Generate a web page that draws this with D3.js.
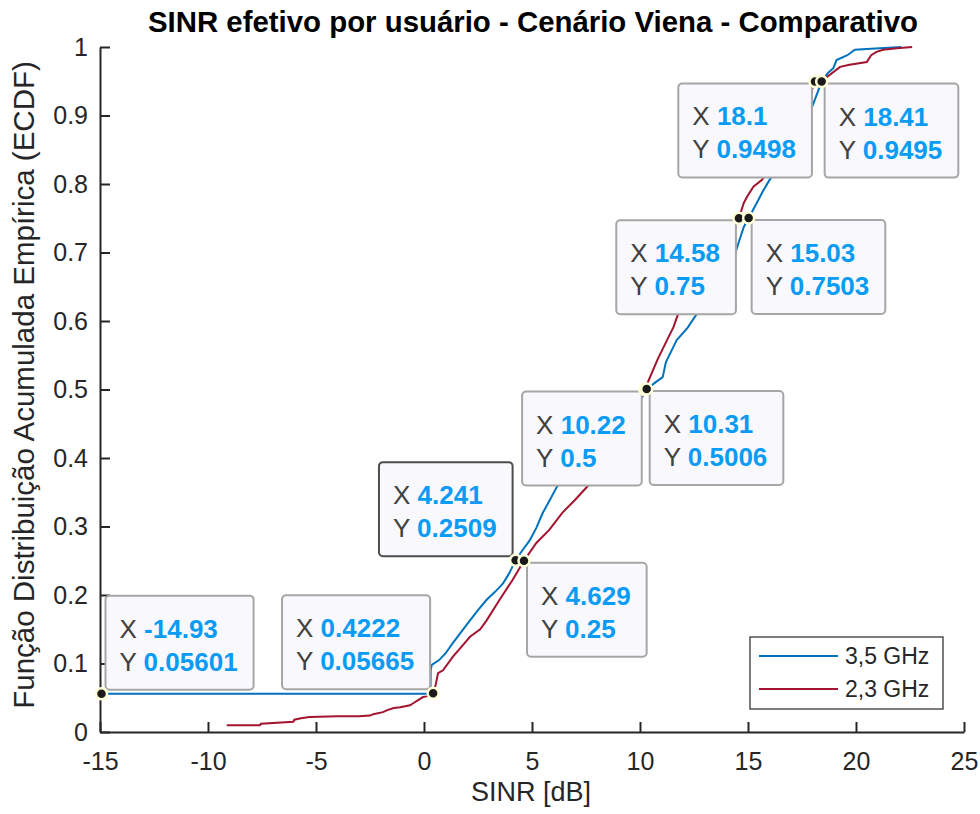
<!DOCTYPE html>
<html><head><meta charset="utf-8">
<script src="https://cdn.jsdelivr.net/npm/d3@7"></script>
<style>body{margin:0;background:#fff}svg{display:block}</style>
</head><body>
<svg id="c" width="980" height="814"></svg>
<script>
// ---- data ----
const titleText = "SINR efetivo por usuário - Cenário Viena - Comparativo";
const xLabel = "SINR [dB]";
const yLabel = "Função Distribuição Acumulada Empírica (ECDF)";
const xTicks = [-15, -10, -5, 0, 5, 10, 15, 20, 25];
const yTicks = [0, 0.1, 0.2, 0.3, 0.4, 0.5, 0.6, 0.7, 0.8, 0.9, 1];
const seriesNames = ["3,5 GHz", "2,3 GHz"];

const blueX = [-14.93, 0.30, 0.31, 0.36, 0.7, 1.0, 1.34, 1.7, 2.13, 2.5, 2.9, 3.3, 3.66, 3.95, 4.241, 4.55, 4.9, 5.2, 5.5, 5.85, 6.15, 6.6, 7.1, 7.6, 8.1, 8.6, 9.1, 9.6, 10.0, 10.31, 10.7, 11.05, 11.2, 11.45, 11.7, 12.2, 12.6, 13.0, 13.4, 13.8, 14.2, 14.5, 14.8, 15.03, 15.4, 15.7, 16.0, 16.4, 16.8, 17.2, 17.6, 18.0, 18.41, 18.7, 18.95, 19.1, 19.6, 19.95, 20.5, 21.1, 22.1];
const blueY = [0.05601, 0.056, 0.090, 0.098, 0.105, 0.115, 0.130, 0.145, 0.163, 0.178, 0.193, 0.205, 0.217, 0.232, 0.2509, 0.265, 0.280, 0.298, 0.320, 0.340, 0.358, 0.372, 0.388, 0.402, 0.418, 0.435, 0.452, 0.468, 0.483, 0.5006, 0.510, 0.518, 0.540, 0.556, 0.572, 0.590, 0.609, 0.625, 0.640, 0.658, 0.676, 0.708, 0.737, 0.7503, 0.772, 0.790, 0.806, 0.825, 0.845, 0.866, 0.888, 0.915, 0.9495, 0.962, 0.969, 0.981, 0.988, 0.996, 0.997, 0.998, 1.0];

const redX = [-9.13, -7.6, -7.55, -6.05, -6.0, -5.7, -5.3, -4.0, -3.0, -2.5, -2.35, -1.9, -1.7, -1.4, -1.1, -0.65, -0.5, -0.05, 0.13, 0.4222, 0.55, 0.65, 0.88, 1.34, 1.67, 2.13, 2.6, 2.9, 3.5, 4.1, 4.629, 5.2, 5.8, 6.4, 7.0, 7.55, 8.0, 8.5, 9.0, 9.4, 9.8, 10.22, 10.8, 11.25, 11.55, 11.75, 12.2, 12.7, 13.2, 13.7, 14.1, 14.58, 14.8, 14.95, 15.25, 15.65, 16.1, 16.6, 17.1, 17.6, 18.1, 18.3, 18.65, 19.26, 19.7, 20.5, 20.7, 20.95, 21.25, 21.9, 22.6];
const redY = [0.010, 0.010, 0.012, 0.015, 0.018, 0.020, 0.022, 0.023, 0.023, 0.024, 0.026, 0.029, 0.032, 0.035, 0.036, 0.039, 0.042, 0.051, 0.052, 0.05665, 0.070, 0.086, 0.090, 0.110, 0.122, 0.139, 0.150, 0.163, 0.193, 0.222, 0.25, 0.276, 0.295, 0.320, 0.339, 0.358, 0.378, 0.400, 0.423, 0.446, 0.470, 0.5, 0.543, 0.572, 0.591, 0.609, 0.626, 0.648, 0.672, 0.697, 0.720, 0.75, 0.772, 0.781, 0.796, 0.806, 0.828, 0.852, 0.878, 0.905, 0.9498, 0.951, 0.956, 0.971, 0.974, 0.978, 0.988, 0.993, 0.996, 0.998, 1.0];

// datatips: x label, y label, direction, selected
const tipX   = ["-14.93", "0.4222", "4.241", "4.629", "10.22", "10.31", "14.58", "15.03", "18.1", "18.41"];
const tipY   = ["0.05601", "0.05665", "0.2509", "0.25", "0.5", "0.5006", "0.75", "0.7503", "0.9498", "0.9495"];
const tipDir = ["ur", "ul", "ul", "lr", "ll", "lr", "ll", "lr", "ll", "lr"];
const tipSel = [false, false, true, false, false, false, false, false, false, false];

// ---- layout ----
const svg = d3.select("#c");
const L = 100, R = 964, T = 47, B = 732;
const x = d3.scaleLinear().domain([-15, 25]).range([L, R]);
const y = d3.scaleLinear().domain([0, 1]).range([B, T]);
const axisColor = "#262626";
const FONT = "'Liberation Sans', Arial, Helvetica, sans-serif";

// curves
const line = d3.line().x(d => x(d[0])).y(d => y(d[1]));
const blue = blueX.map((v, i) => [v, blueY[i]]);
const red = redX.map((v, i) => [v, redY[i]]);
svg.append("path").datum(blue).attr("d", line).attr("fill", "none").attr("stroke", "#0072BD").attr("stroke-width", 2);
svg.append("path").datum(red).attr("d", line).attr("fill", "none").attr("stroke", "#A2142F").attr("stroke-width", 2);

// axes
const gx = svg.append("g").attr("transform", `translate(0,${B})`)
  .call(d3.axisBottom(x).tickValues(xTicks).tickSizeInner(-10).tickSizeOuter(0).tickPadding(20).tickFormat(d => String(d)));
const gy = svg.append("g").attr("transform", `translate(${L},0)`)
  .call(d3.axisLeft(y).tickValues(yTicks).tickSizeInner(-10).tickSizeOuter(0).tickPadding(12).tickFormat(d => d === 0 ? "0" : d === 1 ? "1" : d3.format(".1f")(d)));
[gx, gy].forEach(g => {
  g.select(".domain").attr("stroke", axisColor).attr("stroke-width", 2);
  g.selectAll(".tick line").attr("stroke", axisColor).attr("stroke-width", 2);
  g.selectAll(".tick text").attr("fill", axisColor).attr("font-family", FONT).attr("font-size", 25);
});
gx.selectAll(".tick text").attr("dy", "0.71em");

// title & labels
svg.append("text").attr("x", 533).attr("y", 32).attr("text-anchor", "middle")
  .attr("font-family", FONT).attr("font-weight", "bold").attr("font-size", 30)
  .attr("textLength", 770).attr("lengthAdjust", "spacingAndGlyphs").attr("fill", "#000").text(titleText);
svg.append("text").attr("x", 531).attr("y", 801).attr("text-anchor", "middle")
  .attr("font-family", FONT).attr("font-size", 27).attr("fill", axisColor).text(xLabel);
svg.append("text").attr("transform", "translate(34,385) rotate(-90)").attr("text-anchor", "middle")
  .attr("font-family", FONT).attr("font-size", 29.5).attr("fill", axisColor).text(yLabel);

// datatips
const tipPts = tipX.map((v, i) => [+v, +tipY[i]]);
const gTips = svg.append("g");
tipPts.forEach((p, i) => {
  const mx = x(p[0]), my = y(p[1]);
  const g = gTips.append("g");
  const rect = g.append("rect");
  const t1 = g.append("text").attr("font-family", FONT).attr("font-size", 26);
  t1.append("tspan").attr("fill", "#404040").text("X ");
  t1.append("tspan").attr("fill", "#0A9BF5").attr("font-weight", "bold").text(tipX[i]);
  const t2 = g.append("text").attr("font-family", FONT).attr("font-size", 26);
  t2.append("tspan").attr("fill", "#404040").text("Y ");
  t2.append("tspan").attr("fill", "#0A9BF5").attr("font-weight", "bold").text(tipY[i]);
  const w = Math.max(t1.node().getComputedTextLength(), t2.node().getComputedTextLength()) + 30;
  const h = 94;
  let bx, by;
  const d = tipDir[i];
  if (d === "ur") { bx = mx + 4; by = my - 4 - h; }
  else if (d === "ul") { bx = mx - 3 - w; by = my - 4 - h; }
  else if (d === "lr") { bx = mx + 3; by = my + 2; }
  else { bx = mx - 3 - w; by = my + 2; }
  rect.attr("x", bx).attr("y", by).attr("width", w).attr("height", h).attr("rx", 4)
    .attr("fill", "#F9F9FD").attr("stroke", tipSel[i] ? "#4d4d4d" : "#A6A6A6").attr("stroke-width", 2);
  t1.attr("x", bx + 14).attr("y", by + 42);
  t2.attr("x", bx + 14).attr("y", by + 75);
});
// markers
svg.append("g").selectAll("circle").data(tipPts).join("circle")
  .attr("cx", d => x(d[0])).attr("cy", d => y(d[1])).attr("r", 5.5)
  .attr("fill", "#1a1a1a").attr("stroke", "#FFFFD9").attr("stroke-width", 2.5);

// legend
const lg = svg.append("g");
lg.append("rect").attr("x", 750).attr("y", 637).attr("width", 193).attr("height", 72)
  .attr("fill", "#fff").attr("stroke", axisColor).attr("stroke-width", 1.2);
const legColors = ["#0072BD", "#A2142F"];
seriesNames.forEach((n, i) => {
  const yy = 656 + i * 33;
  lg.append("line").attr("x1", 759).attr("x2", 838).attr("y1", yy).attr("y2", yy)
    .attr("stroke", legColors[i]).attr("stroke-width", 2);
  lg.append("text").attr("x", 845).attr("y", yy + 8).attr("font-family", FONT).attr("font-size", 23)
    .attr("fill", axisColor).text(n);
});
</script>
</body></html>
